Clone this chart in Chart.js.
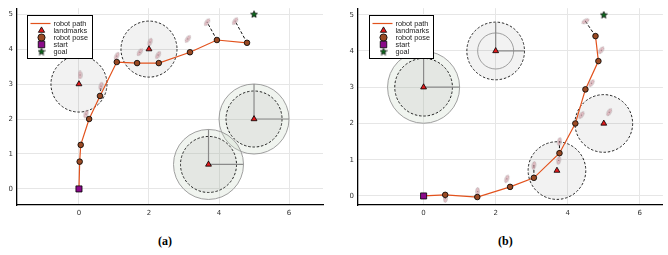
<!DOCTYPE html>
<html>
<head>
<meta charset="utf-8">
<script src="https://cdn.jsdelivr.net/npm/chart.js@4.4.1/dist/chart.umd.min.js"></script>
<style>
body { margin: 0; background: #fff; width: 668px; height: 255px; position: relative; overflow: hidden; }
canvas { position: absolute; top: 0; }
#chartA { left: 0; }
#chartB { left: 334px; }
.cap { position: absolute; top: 234px; font: bold 12px "Liberation Serif", "DejaVu Serif", serif; color: #000; }
</style>
</head>
<body>
<canvas id="chartA" width="334" height="225"></canvas>
<canvas id="chartB" width="334" height="225"></canvas>
<div class="cap" style="left:158px">(a)</div>
<div class="cap" style="left:498px">(b)</div>
<script>
// shared scene
var landmarkX = [0, 2, 5, 3.7];
var landmarkY = [3, 4, 2, 0.7];
var startX = [0], startY = [0];
var goalX = [5], goalY = [5];
var xTicks = [0, 2, 4, 6];
var yTicks = [0, 1, 2, 3, 4, 5];

// run (a)
var poseAX = [0.02, 0.05, 0.29, 0.6, 1.08, 1.66, 2.28, 3.17, 3.94, 4.8];
var poseAY = [0.78, 1.26, 2.0, 2.66, 3.63, 3.6, 3.6, 3.91, 4.26, 4.18];
var obsAX = [0.03, 0.2, 0.63, 1.08, 1.74, 2.03, 2.26, 3.11, 3.66, 4.46];
var obsAY = [3.26, 2.14, 2.94, 3.8, 3.91, 4.2, 3.83, 4.29, 4.77, 4.8];
var obsAAngle = [0, 20, 15, 25, 35, 20, 30, 35, 35, 35];
var linkAPose = [3, 8, 9];
var linkAObs = [2, 8, 9];
var dashedAR = [0.8, 0.8, 0.8, 0.8];
var outerAR = [0, 0, 1.0, 1.0];
var innerAR = [0, 0, 0, 0];
var crossAR = [0, 0, 1.0, 1.0];

// run (b)
var poseBX = [0.6, 1.49, 2.4, 3.06, 3.77, 4.21, 4.49, 4.85, 4.77];
var poseBY = [0.03, -0.03, 0.25, 0.5, 1.18, 2.0, 2.94, 3.72, 4.41];
var obsBX = [0.6, 1.5, 2.31, 3.06, 3.77, 3.75, 4.38, 4.66, 4.93, 4.49, 5.15];
var obsBY = [-0.07, 0.12, 0.47, 0.84, 1.5, 0.98, 2.23, 3.11, 4.02, 4.82, 2.31];
var obsBAngle = [0, 0, 20, 10, 10, 10, 35, 35, 35, 60, 30];
var linkBPose = [8, 4, 3];
var linkBObs = [9, 4, 3];
var dashedBR = [0.8, 0.8, 0.8, 0.8];
var outerBR = [1.0, 0, 0, 0];
var innerBR = [0, 0.5, 0, 0];
var crossBR = [1.0, 0.8, 0, 0];

var pathColor = '#e2521d';

function pts(xs, ys) {
    return xs.map(function (x, i) { return { x: x, y: ys[i] }; });
}

function ellipseImage() {
    var c = document.createElement('canvas');
    c.width = 5; c.height = 9;
    var g = c.getContext('2d');
    g.beginPath();
    g.ellipse(2.5, 4.5, 1.8, 3.9, 0, 0, Math.PI * 2);
    g.fillStyle = 'rgba(220,160,170,0.65)';
    g.fill();
    g.strokeStyle = 'rgba(140,140,140,0.7)';
    g.lineWidth = 0.6;
    g.stroke();
    g.fillStyle = 'rgba(70,70,70,0.6)';
    g.fillRect(2, 4, 1, 1);
    return c;
}

function starImage() {
    var c = document.createElement('canvas');
    c.width = 8; c.height = 8;
    var g = c.getContext('2d');
    g.beginPath();
    for (var i = 0; i < 10; i++) {
        var r = i % 2 === 0 ? 3.6 : 1.6;
        var a = -Math.PI / 2 + i * Math.PI / 5;
        g.lineTo(4 + r * Math.cos(a), 4.3 + r * Math.sin(a));
    }
    g.closePath();
    g.fillStyle = '#0a6a1a';
    g.fill();
    g.strokeStyle = '#000';
    g.lineWidth = 0.7;
    g.stroke();
    return c;
}

var ellipseImg = ellipseImage();
var starImg = starImage();

var uncertainty = {
    id: 'uncertainty',
    beforeDatasetsDraw: function (chart, args, opts) {
        var xs = chart.scales.x, ys = chart.scales.y, ctx = chart.ctx, a = chart.chartArea;
        ctx.save();
        ctx.beginPath();
        ctx.rect(a.left, a.top, a.right - a.left, a.bottom - a.top);
        ctx.clip();
        landmarkX.forEach(function (lx, i) {
            var cx = xs.getPixelForValue(lx), cy = ys.getPixelForValue(landmarkY[i]);
            var px = function (r) { return xs.getPixelForValue(lx + r) - cx; };
            if (opts.outer[i]) {
                ctx.beginPath();
                ctx.arc(cx, cy, px(opts.outer[i]), 0, Math.PI * 2);
                ctx.fillStyle = 'rgba(200,214,196,0.28)';
                ctx.fill();
                ctx.strokeStyle = 'rgba(150,150,150,0.9)';
                ctx.lineWidth = 1;
                ctx.setLineDash([]);
                ctx.stroke();
            }
            if (opts.dashed[i]) {
                ctx.beginPath();
                ctx.arc(cx, cy, px(opts.dashed[i]), 0, Math.PI * 2);
                ctx.fillStyle = 'rgba(0,0,0,0.05)';
                ctx.fill();
                ctx.strokeStyle = '#111';
                ctx.lineWidth = 0.9;
                ctx.setLineDash([2.5, 1.8]);
                ctx.stroke();
                ctx.setLineDash([]);
            }
            if (opts.inner[i]) {
                ctx.beginPath();
                ctx.arc(cx, cy, px(opts.inner[i]), 0, Math.PI * 2);
                ctx.strokeStyle = 'rgba(150,150,150,0.9)';
                ctx.lineWidth = 1;
                ctx.stroke();
            }
            if (opts.cross[i]) {
                var r = px(opts.cross[i]);
                ctx.beginPath();
                ctx.moveTo(cx, cy); ctx.lineTo(cx, cy - r);
                ctx.moveTo(cx, cy); ctx.lineTo(cx + r, cy);
                ctx.strokeStyle = '#8a8a8a';
                ctx.lineWidth = 1.2;
                ctx.stroke();
            }
        });
        ctx.restore();
    }
};

var boxLegend = {
    id: 'boxLegend',
    afterDraw: function (chart, args, opts) {
        var ctx = chart.ctx, a = chart.chartArea;
        var x0 = Math.round(a.left + opts.dx) + 0.5, y0 = Math.round(a.top + 7) + 0.5;
        ctx.save();
        ctx.fillStyle = '#fff';
        ctx.fillRect(x0, y0, opts.w, 43);
        ctx.strokeStyle = '#000';
        ctx.lineWidth = 1;
        ctx.strokeRect(x0, y0, opts.w, 43);
        var names = ['robot path', 'landmarks', 'robot pose', 'start', 'goal'];
        ctx.font = '7.3px "Liberation Sans", Arial, sans-serif';
        ctx.textBaseline = 'middle';
        names.forEach(function (name, k) {
            var ds = chart.data.datasets.filter(function (d) { return d.label === name; })[0];
            var yy = y0 + 8 + k * 7;
            var mx = x0 + 14;
            if (name === 'robot path') {
                ctx.beginPath();
                ctx.moveTo(x0 + 3, yy); ctx.lineTo(x0 + 23, yy);
                ctx.strokeStyle = pathColor; ctx.lineWidth = 1.2;
                ctx.stroke();
            } else if (name === 'goal') {
                ctx.drawImage(starImg, mx - 4, yy - 4);
            } else {
                ctx.fillStyle = ds.backgroundColor || '#000';
                ctx.strokeStyle = ds.borderColor || '#000';
                ctx.lineWidth = ds.borderWidth || 1;
                Chart.helpers.drawPoint(ctx, {
                    pointStyle: ds.pointStyle, radius: ds.pointStyle === 'rect' ? 4.6 : 3.6,
                    rotation: 0, borderWidth: ds.borderWidth || 1
                }, mx, yy);
            }
            ctx.fillStyle = '#222';
            ctx.fillText(name, x0 + 26, yy);
        });
        ctx.restore();
    }
};

function buildChart(canvasId, p) {
    var datasets = [];
    datasets.push({
        label: 'robot path', data: pts(startX.concat(p.poseX), startY.concat(p.poseY)),
        showLine: true, borderColor: pathColor, borderWidth: 1.2, pointRadius: 0, order: 5
    });
    p.linkPose.forEach(function (pi, k) {
        var oi = p.linkObs[k];
        datasets.push({
            label: 'link', data: [{ x: p.poseX[pi], y: p.poseY[pi] }, { x: p.obsX[oi], y: p.obsY[oi] }],
            showLine: true, borderColor: '#111', borderWidth: 1, borderDash: [3, 2],
            pointRadius: 0, order: 6
        });
    });
    datasets.push({
        label: 'obs', data: pts(p.obsX, p.obsY), pointStyle: ellipseImg,
        rotation: p.obsAngle, pointRadius: 4, order: 4
    });
    datasets.push({
        label: 'robot pose', data: pts(p.poseX, p.poseY), pointStyle: 'circle',
        pointRadius: 2.8, backgroundColor: '#9a4a24', borderColor: '#000', borderWidth: 0.8, order: 3
    });
    datasets.push({
        label: 'landmarks', data: pts(landmarkX, landmarkY), pointStyle: 'triangle',
        pointRadius: 3.4, backgroundColor: '#e41a1c', borderColor: '#000', borderWidth: 0.8, order: 2
    });
    datasets.push({
        label: 'start', data: pts(startX, startY), pointStyle: 'rect',
        pointRadius: 4.3, backgroundColor: '#8a0a8a', borderColor: '#000', borderWidth: 0.8, order: 1
    });
    datasets.push({
        label: 'goal', data: pts(goalX, goalY), pointStyle: starImg,
        pointRadius: 4, order: 1
    });

    var tickFont = { size: 7, family: '"DejaVu Sans", sans-serif' };
    return new Chart(document.getElementById(canvasId).getContext('2d'), {
        type: 'scatter',
        data: { datasets: datasets },
        options: {
            responsive: false,
            animation: false,
            events: [],
            layout: { padding: { top: 8, right: p.padRight, left: 0, bottom: 0 } },
            plugins: {
                legend: { display: false },
                tooltip: { enabled: false },
                uncertainty: { dashed: p.dashed, outer: p.outer, inner: p.inner, cross: p.cross },
                boxLegend: { dx: p.legendDx, w: p.legendW }
            },
            scales: {
                x: {
                    type: 'linear', min: p.xMin, max: p.xMax,
                    afterBuildTicks: function (s) { s.ticks = xTicks.map(function (v) { return { value: v }; }); },
                    afterFit: function (s) { s.height = 20; },
                    grid: { color: '#e6e6e6', drawTicks: false },
                    border: { color: '#000', width: 1.3 },
                    ticks: { padding: 4, font: tickFont, color: '#333' }
                },
                y: {
                    type: 'linear', min: p.yMin, max: p.yMax,
                    afterBuildTicks: function (s) { s.ticks = yTicks.map(function (v) { return { value: v }; }); },
                    afterFit: function (s) { s.width = p.yWidth; },
                    grid: { color: '#e6e6e6', drawTicks: false },
                    border: { color: '#000', width: 1.3 },
                    ticks: { padding: 4, font: tickFont, color: '#333' }
                }
            }
        },
        plugins: [uncertainty, boxLegend]
    });
}

buildChart('chartA', {
    poseX: poseAX, poseY: poseAY, obsX: obsAX, obsY: obsAY, obsAngle: obsAAngle,
    linkPose: linkAPose, linkObs: linkAObs,
    dashed: dashedAR, outer: outerAR, inner: innerAR, cross: crossAR,
    xMin: -1.77, xMax: 6.97, yMin: -0.46, yMax: 5.17, yWidth: 17, padRight: 11,
    legendDx: 10, legendW: 65
});

buildChart('chartB', {
    poseX: poseBX, poseY: poseBY, obsX: obsBX, obsY: obsBY, obsAngle: obsBAngle,
    linkPose: linkBPose, linkObs: linkBObs,
    dashed: dashedBR, outer: outerBR, inner: innerBR, cross: crossBR,
    xMin: -1.82, xMax: 6.64, yMin: -0.25, yMax: 5.18, yWidth: 24, padRight: 3,
    legendDx: 11, legendW: 64
});
</script>
</body>
</html>
